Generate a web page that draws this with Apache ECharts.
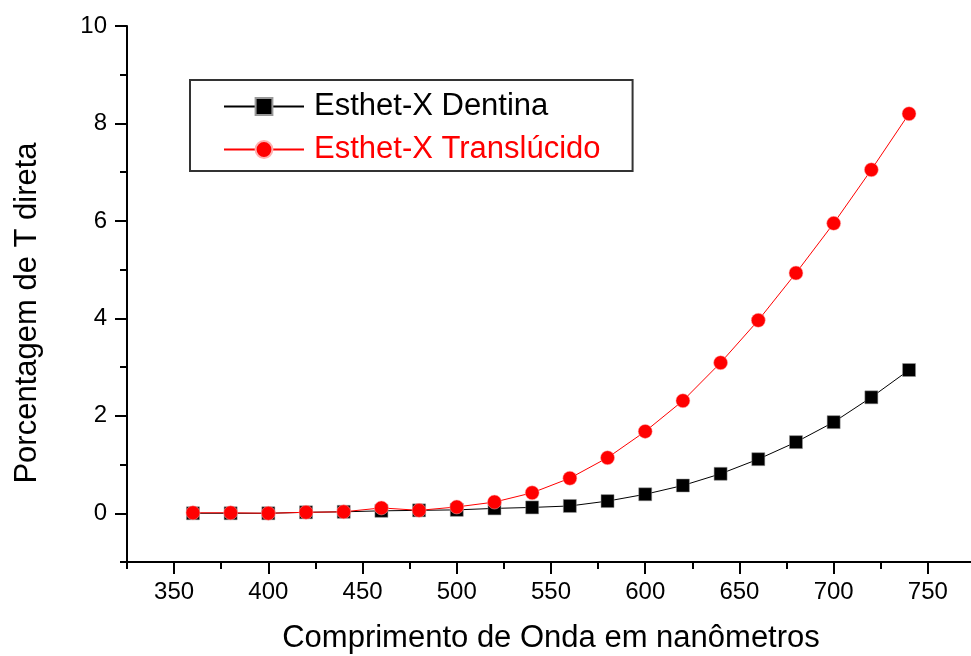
<!DOCTYPE html>
<html>
<head>
<meta charset="utf-8">
<script src="https://cdn.jsdelivr.net/npm/echarts@6/dist/echarts.min.js"></script>
<style>
  html, body { margin: 0; padding: 0; background: #fff; }
  #chart { width: 971px; height: 656px; }
</style>
</head>
<body>
<div id="chart"></div>
<script>
const wavelengths = [360, 380, 400, 420, 440, 460, 480, 500, 520, 540, 560, 580, 600, 620, 640, 660, 680, 700, 720, 740];
const dentina = [0, 0, 0, 0.02, 0.03, 0.05, 0.06, 0.07, 0.1, 0.12, 0.15, 0.25, 0.39, 0.57, 0.81, 1.11, 1.46, 1.87, 2.38, 2.94];
const translucido = [0.01, 0.01, 0, 0.02, 0.03, 0.11, 0.06, 0.13, 0.23, 0.42, 0.72, 1.14, 1.68, 2.31, 3.09, 3.96, 4.93, 5.95, 7.05, 8.20];
const seriesNames = ['Esthet-X Dentina', 'Esthet-X Translúcido'];
const xMajorTicks = [350, 400, 450, 500, 550, 600, 650, 700, 750];
const xMinorTicks = [325, 375, 425, 475, 525, 575, 625, 675, 725];
const yMajorTicks = [0, 2, 4, 6, 8, 10];
const yMinorTicks = [-1, 1, 3, 5, 7, 9];
const xTitle = 'Comprimento de Onda em nanômetros';
const yTitle = 'Porcentagem de T direta';

const FONT = '"Liberation Sans", Arial, sans-serif';
const chart = echarts.init(document.getElementById('chart'), null, { renderer: 'canvas' });

const pairs = (ys) => wavelengths.map((x, i) => [x, ys[i]]);
const axisLineStyle = { color: '#000', width: 2 };

chart.setOption({
  animation: false,
  backgroundColor: '#fff',
  grid: { left: 127, right: -4, top: 26, bottom: 94, containLabel: false, outerBoundsMode: 'none' },
  legend: {
    orient: 'vertical',
    left: 190,
    top: 80,
    padding: [11, 32, 6, 33],
    itemGap: 12,
    itemWidth: 80,
    itemHeight: 21,
    borderColor: '#333',
    borderWidth: 2,
    textStyle: { fontSize: 31, fontFamily: FONT, color: '#000', padding: [0, 0, 0, 5] },
    data: [
      { name: seriesNames[0], textStyle: { color: '#000' } },
      { name: seriesNames[1], textStyle: { color: '#ff0000' } }
    ]
  },
  xAxis: [
    {
      type: 'value', gridIndex: 0, position: 'bottom', min: 325, max: 775,
      axisLine: { show: true, onZero: false, lineStyle: axisLineStyle },
      axisTick: { show: true, customValues: xMajorTicks, length: 12, lineStyle: axisLineStyle },
      axisLabel: { show: true, customValues: xMajorTicks, fontSize: 24, fontFamily: FONT, color: '#000', margin: 18 },
      splitLine: { show: false },
      name: xTitle, nameLocation: 'middle', nameGap: 61,
      nameTextStyle: { fontSize: 31, fontFamily: FONT, color: '#000' }
    },
    {
      type: 'value', gridIndex: 0, position: 'bottom', min: 325, max: 775,
      axisLine: { show: false, onZero: false },
      axisTick: { show: true, customValues: xMinorTicks, length: 7, lineStyle: axisLineStyle },
      axisLabel: { show: false },
      splitLine: { show: false }
    }
  ],
  yAxis: [
    {
      type: 'value', gridIndex: 0, position: 'left', min: -1, max: 10,
      axisLine: { show: true, onZero: false, lineStyle: axisLineStyle },
      axisTick: { show: true, customValues: yMajorTicks, length: 12, lineStyle: axisLineStyle },
      axisLabel: { show: true, customValues: yMajorTicks, fontSize: 24, fontFamily: FONT, color: '#000', margin: 20 },
      splitLine: { show: false },
      name: yTitle, nameLocation: 'middle', nameGap: 84, nameRotate: 90,
      nameTextStyle: { fontSize: 31, fontFamily: FONT, color: '#000', padding: [0, 38, 0, 0] }
    },
    {
      type: 'value', gridIndex: 0, position: 'left', min: -1, max: 10,
      axisLine: { show: false, onZero: false },
      axisTick: { show: true, customValues: yMinorTicks, length: 7, lineStyle: axisLineStyle },
      axisLabel: { show: false },
      splitLine: { show: false }
    }
  ],
  series: [
    {
      name: seriesNames[0], type: 'line', xAxisIndex: 0, yAxisIndex: 0,
      data: pairs(dentina),
      symbol: 'rect', symbolSize: 13,
      lineStyle: { color: '#000', width: 1 },
      itemStyle: { color: '#000', borderColor: '#999', borderWidth: 0.5 },
      z: 2
    },
    {
      name: seriesNames[1], type: 'line', xAxisIndex: 0, yAxisIndex: 0,
      data: pairs(translucido),
      symbol: 'circle', symbolSize: 14,
      lineStyle: { color: '#ff0000', width: 1 },
      itemStyle: { color: '#ff0000', borderColor: '#ffb0b0', borderWidth: 0.5 },
      z: 3
    }
  ]
});
</script>
</body>
</html>
